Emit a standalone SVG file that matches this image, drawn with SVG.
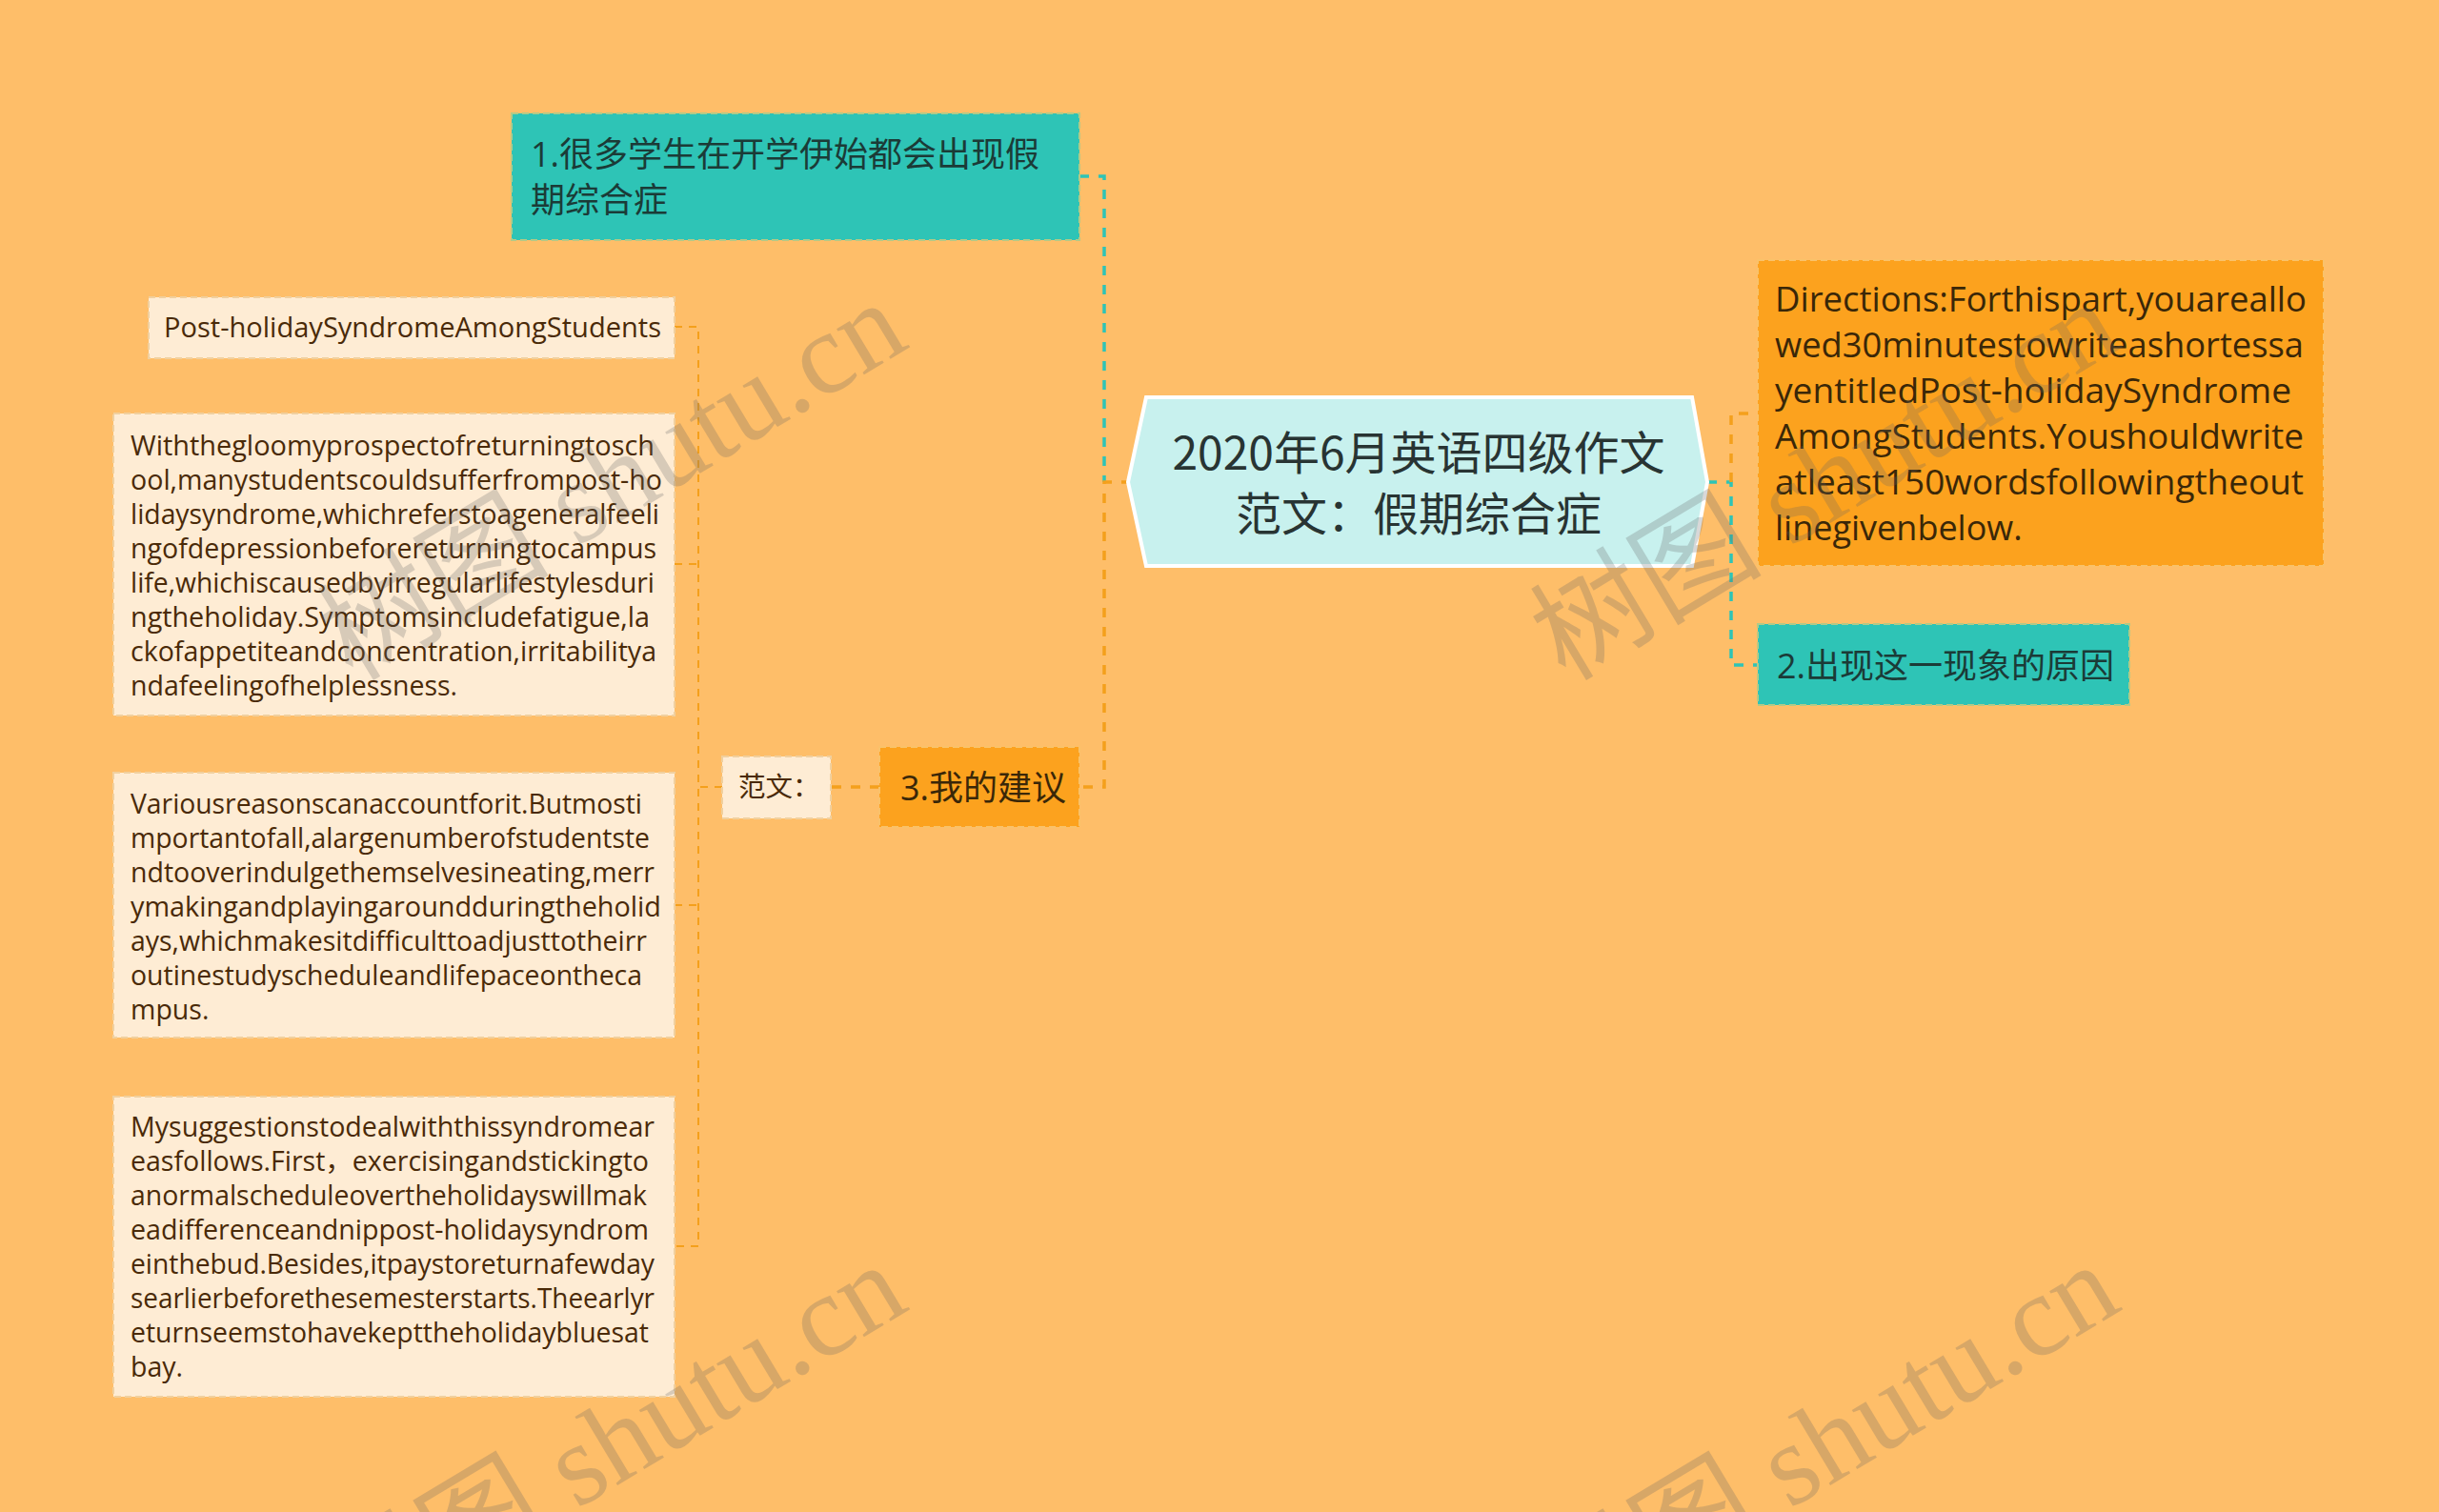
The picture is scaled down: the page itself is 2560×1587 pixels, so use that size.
<svg xmlns="http://www.w3.org/2000/svg" width="2560" height="1587" viewBox="0 0 2560 1587">
<style>
.bg{fill:#febe69}
.teal{fill:#2ec4b6;stroke:#b3c987;stroke-width:2;stroke-dasharray:7 4}
.orange{fill:#fca21e;stroke:#f9c26a;stroke-width:2;stroke-dasharray:7 4}
.cream{fill:#feecd4;stroke:#f1d09e;stroke-width:2;stroke-dasharray:7 4}
.center{fill:#c8f1ee;stroke:#ffffff;stroke-width:4}
.c-or{fill:none;stroke:#f4a01c;stroke-width:3.5;stroke-dasharray:10 10}
.c-teal{fill:none;stroke:#2ec4b6;stroke-width:3.5;stroke-dasharray:10 10}
.c-leaf{fill:none;stroke:#f4a01c;stroke-width:2;stroke-dasharray:8 7}
text{font-family:"Open Sans","Noto Sans CJK SC",sans-serif}
.t-center{font-size:48px;fill:#283433;text-anchor:middle;font-family:"Noto Sans CJK SC",sans-serif}
.t-teal{font-size:36px;fill:#1b3b37}
.t-or{font-size:36px;fill:#3a2708}
.t-leaf{font-size:28.5px;fill:#4a2a08}
.wm{font-family:"Liberation Serif","Noto Sans CJK SC",serif;font-size:122px;fill:#646464;fill-opacity:0.25}
</style>
<rect class="bg" x="0" y="0" width="2560" height="1587"/>

<g id="connectors">
  <path class="c-teal" d="M1133 185 H1159 V506"/>
  <path class="c-or" d="M1187 506 H1159 V826 H1133"/>
  <path class="c-teal" d="M1792 506 H1817 V698 H1845"/>
  <path class="c-or" d="M1817 506 V434 H1845"/>
  <path class="c-or" d="M923 826 H872"/>
  <path class="c-leaf" d="M758 826 H733"/>
  <path class="c-leaf" d="M708 343 H733 V1308 H708"/>
  <path class="c-leaf" d="M708 592 H733"/>
  <path class="c-leaf" d="M708 950 H733"/>
</g>

<g id="node-center">
  <polygon class="center" points="1184,506 1203,417 1776,417 1792,506 1776,594 1203,594"/>
  <text class="t-center" x="1489" y="493">2020年6月英语四级作文</text>
  <text class="t-center" x="1489" y="557">范文：假期综合症</text>
</g>

<g id="node-1">
  <rect class="teal" x="537" y="119" width="596" height="133"/>
  <text class="t-teal" x="557" y="175">1.很多学生在开学伊始都会出现假</text>
  <text class="t-teal" x="557" y="223">期综合症</text>
</g>

<g id="node-directions">
  <rect class="orange" x="1845" y="273" width="594" height="321"/>
  <text class="t-or" x="1863" y="327" textLength="558" lengthAdjust="spacingAndGlyphs">Directions:Forthispart,youareallo</text>
  <text class="t-or" x="1863" y="375" textLength="555" lengthAdjust="spacingAndGlyphs">wed30minutestowriteashortessa</text>
  <text class="t-or" x="1863" y="423" textLength="542" lengthAdjust="spacingAndGlyphs">yentitledPost-holidaySyndrome</text>
  <text class="t-or" x="1863" y="471" textLength="555" lengthAdjust="spacingAndGlyphs">AmongStudents.Youshouldwrite</text>
  <text class="t-or" x="1863" y="519" textLength="555" lengthAdjust="spacingAndGlyphs">atleast150wordsfollowingtheout</text>
  <text class="t-or" x="1863" y="567">linegivenbelow.</text>
</g>

<g id="node-2">
  <rect class="teal" x="1845" y="655" width="390" height="85"/>
  <text class="t-teal" x="1865" y="712">2.出现这一现象的原因</text>
</g>

<g id="node-3">
  <rect class="orange" x="923" y="784" width="210" height="84"/>
  <text class="t-or" x="945" y="840">3.我的建议</text>
</g>

<g id="node-fanwen">
  <rect class="cream" x="758" y="794" width="114" height="65"/>
  <text class="t-leaf" x="775" y="836">范文：</text>
</g>

<g id="node-title">
  <rect class="cream" x="156" y="312" width="552" height="64"/>
  <text class="t-leaf" x="172" y="354" textLength="522" lengthAdjust="spacingAndGlyphs">Post-holidaySyndromeAmongStudents</text>
</g>

<g id="node-para1">
  <rect class="cream" x="119" y="434" width="589" height="317"/>
  <text class="t-leaf" x="137" y="478" textLength="550" lengthAdjust="spacingAndGlyphs">Withthegloomyprospectofreturningtosch</text>
  <text class="t-leaf" x="137" y="514" textLength="558" lengthAdjust="spacingAndGlyphs">ool,manystudentscouldsufferfrompost-ho</text>
  <text class="t-leaf" x="137" y="550" textLength="555" lengthAdjust="spacingAndGlyphs">lidaysyndrome,whichreferstoageneralfeeli</text>
  <text class="t-leaf" x="137" y="586" textLength="552" lengthAdjust="spacingAndGlyphs">ngofdepressionbeforereturningtocampus</text>
  <text class="t-leaf" x="137" y="622" textLength="550" lengthAdjust="spacingAndGlyphs">life,whichiscausedbyirregularlifestylesduri</text>
  <text class="t-leaf" x="137" y="658" textLength="545" lengthAdjust="spacingAndGlyphs">ngtheholiday.Symptomsincludefatigue,la</text>
  <text class="t-leaf" x="137" y="694" textLength="552" lengthAdjust="spacingAndGlyphs">ckofappetiteandconcentration,irritabilitya</text>
  <text class="t-leaf" x="137" y="730">ndafeelingofhelplessness.</text>
</g>

<g id="node-para2">
  <rect class="cream" x="119" y="811" width="589" height="278"/>
  <text class="t-leaf" x="137" y="854" textLength="537" lengthAdjust="spacingAndGlyphs">Variousreasonscanaccountforit.Butmosti</text>
  <text class="t-leaf" x="137" y="890" textLength="545" lengthAdjust="spacingAndGlyphs">mportantofall,alargenumberofstudentste</text>
  <text class="t-leaf" x="137" y="926" textLength="550" lengthAdjust="spacingAndGlyphs">ndtooverindulgethemselvesineating,merr</text>
  <text class="t-leaf" x="137" y="962" textLength="557" lengthAdjust="spacingAndGlyphs">ymakingandplayingaroundduringtheholid</text>
  <text class="t-leaf" x="137" y="998" textLength="542" lengthAdjust="spacingAndGlyphs">ays,whichmakesitdifficulttoadjusttotheirr</text>
  <text class="t-leaf" x="137" y="1034" textLength="537" lengthAdjust="spacingAndGlyphs">outinestudyscheduleandlifepaceontheca</text>
  <text class="t-leaf" x="137" y="1070">mpus.</text>
</g>

<g id="node-para3">
  <rect class="cream" x="119" y="1151" width="589" height="315"/>
  <text class="t-leaf" x="137" y="1193" textLength="550" lengthAdjust="spacingAndGlyphs">Mysuggestionstodealwiththissyndromear</text>
  <text class="t-leaf" x="137" y="1229" textLength="544" lengthAdjust="spacingAndGlyphs">easfollows.First，exercisingandstickingto</text>
  <text class="t-leaf" x="137" y="1265" textLength="542" lengthAdjust="spacingAndGlyphs">anormalscheduleovertheholidayswillmak</text>
  <text class="t-leaf" x="137" y="1301" textLength="544" lengthAdjust="spacingAndGlyphs">eadifferenceandnippost-holidaysyndrom</text>
  <text class="t-leaf" x="137" y="1337" textLength="550" lengthAdjust="spacingAndGlyphs">einthebud.Besides,itpaystoreturnafewday</text>
  <text class="t-leaf" x="137" y="1373" textLength="550" lengthAdjust="spacingAndGlyphs">searlierbeforethesemesterstarts.Theearlyr</text>
  <text class="t-leaf" x="137" y="1409" textLength="544" lengthAdjust="spacingAndGlyphs">eturnseemstohavekepttheholidaybluesat</text>
  <text class="t-leaf" x="137" y="1445">bay.</text>
</g>

<g id="watermark">
  <text class="wm" transform="translate(370,716) rotate(-31)">树图 shutu.cn</text>
  <text class="wm" transform="translate(1643,716) rotate(-31)">树图 shutu.cn</text>
  <text class="wm" transform="translate(370,1726) rotate(-31)">树图 shutu.cn</text>
  <text class="wm" transform="translate(1643,1726) rotate(-31)">树图 shutu.cn</text>
</g>
</svg>
